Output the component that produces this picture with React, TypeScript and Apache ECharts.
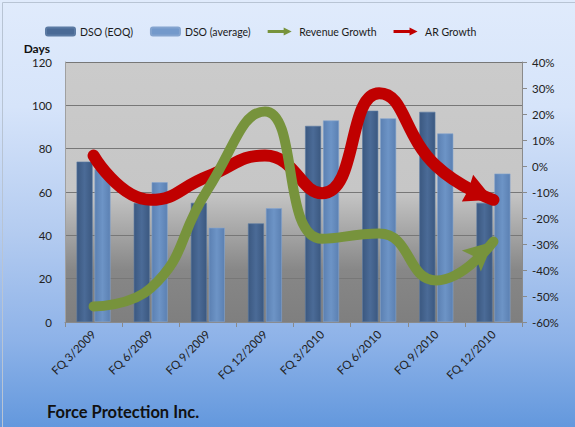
import React, { useEffect, useRef } from "react";
import * as echarts from "echarts";

const categories = ["FQ 3/2009", "FQ 6/2009", "FQ 9/2009", "FQ 12/2009", "FQ 3/2010", "FQ 6/2010", "FQ 9/2010", "FQ 12/2010"];
const dsoEoq = [74, 55, 55, 45.5, 90.5, 97.5, 97, 55];
const dsoAvg = [70.5, 64.5, 43.5, 52.5, 93, 94, 87, 68.5];
const revenueGrowth = [-54, -47, -9, 21, -28, -26, -44, -29];
const arGrowth = [4, -13, -4, 4, -10.5, 28, 0, -13];
const leftTicks = { min: 0, max: 120, interval: 20 };
const rightTicks = { min: -60, max: 40, interval: 10 };

const FONT = "Lato, 'Open Sans', sans-serif";

const arrowPath = "path://M0,3 L20,3 L20,0 L30,5 L20,10 L20,7 L0,7 Z";
// arrowheads drawn already pointing in their direction (no rotation needed)
const redHead = "path://M11.3,0 L31.6,25 L0,26.7 L6.6,15 Z";
const greenHead = "path://M31.6,0 L0,9 L14.3,16 L19,30 Z";

export default function App() {
  const ref = useRef<HTMLDivElement>(null);
  useEffect(() => {
    if (!ref.current) return;
    const chart = echarts.init(ref.current, undefined, { renderer: "svg" });
    const last = categories.length - 1;
    const lineData = (vals: number[], head: string, off: number[], size: number[]) =>
      vals.map((v, i) =>
        i === last
          ? { value: v, symbol: head, symbolSize: size, symbolOffset: off, symbolKeepAspect: false }
          : { value: v, symbol: "none" }
      );
    const barColor = (a: string, b: string) =>
      new echarts.graphic.LinearGradient(0, 0, 1, 0, [
        { offset: 0, color: a },
        { offset: 0.5, color: b },
        { offset: 1, color: a },
      ]);
    chart.setOption({
      animation: false,
      textStyle: { fontFamily: FONT },
      title: {
        text: "Force Protection Inc.",
        left: 42,
        top: 398,
        textStyle: { fontFamily: FONT, fontSize: 16.5, fontWeight: "bold", color: "#111" },
      },
      legend: {
        left: 40,
        top: 21,
        itemWidth: 29,
        itemHeight: 8,
        itemGap: 17,
        textStyle: { fontFamily: FONT, fontSize: 10.5, color: "#1a1a1a" },
        data: [
          { name: "DSO (EOQ)", icon: "roundRect", itemStyle: { color: "#4a6a96" } },
          { name: "DSO (average)", icon: "roundRect", itemStyle: { color: "#7399cb" } },
          { name: "Revenue Growth", icon: arrowPath, itemStyle: { color: "#77933c" } },
          { name: "AR Growth", icon: arrowPath, itemStyle: { color: "#c00000" } },
        ],
      },
      grid: {
        left: 65,
        right: 53,
        top: 62,
        bottom: 105,
        show: true,
        borderWidth: 0,
        backgroundColor: new echarts.graphic.LinearGradient(0, 0, 0, 1, [
          { offset: 0, color: "#cbcbcb" },
          { offset: 0.5, color: "#c6c6c6" },
          { offset: 0.8, color: "#878787" },
          { offset: 1, color: "#7f7f7f" },
        ]),
      },
      xAxis: {
        type: "category",
        data: categories,
        axisLine: { lineStyle: { color: "#8a8a8a" } },
        axisTick: { show: true, length: 5, lineStyle: { color: "#8a8a8a" } },
        axisLabel: { rotate: 45, fontSize: 11.5, color: "#222", fontFamily: FONT, margin: 10 },
      },
      yAxis: [
        {
          type: "value",
          ...leftTicks,
          name: "Days",
          nameGap: 8,
          nameTextStyle: { fontFamily: FONT, fontSize: 12, fontWeight: "bold", color: "#111", align: "right", padding: [0, 15, 0, 0] },
          axisLine: { show: true, lineStyle: { color: "#a0a0a0" } },
          axisTick: { show: false },
          axisLabel: { fontSize: 11.5, color: "#222", fontFamily: FONT, margin: 13 },
          splitLine: { lineStyle: { color: "#777", width: 1 } },
        },
        {
          type: "value",
          ...rightTicks,
          position: "right",
          axisLine: { show: true, lineStyle: { color: "#8a8a8a" } },
          axisTick: { show: true, length: 5, lineStyle: { color: "#8a8a8a" } },
          axisLabel: { fontSize: 11.5, color: "#222", fontFamily: FONT, margin: 10, formatter: "{value}%" },
          splitLine: { show: false },
        },
      ],
      series: [
        {
          name: "DSO (EOQ)",
          type: "bar",
          data: dsoEoq,
          barWidth: 16,
          barGap: "12%",
          itemStyle: { color: barColor("#3b5880", "#4b6b97"), borderColor: "#5b7aa3", borderWidth: 0.6 },
        },
        {
          name: "DSO (average)",
          type: "bar",
          data: dsoAvg,
          barWidth: 16,
          itemStyle: { color: barColor("#5b80b2", "#6d94c6"), borderColor: "#84a4cf", borderWidth: 0.6 },
        },
        {
          name: "AR Growth",
          type: "line",
          yAxisIndex: 1,
          smooth: 0.5,
          z: 3,
          showSymbol: true,
          data: lineData(arGrowth, redHead, [-15.8, -11.6], [31.6, 26.7]),
          lineStyle: { color: "#c00000", width: 12, cap: "round" },
          itemStyle: { color: "#c00000" },
        },
        {
          name: "Revenue Growth",
          type: "line",
          yAxisIndex: 1,
          smooth: 0.5,
          z: 4,
          showSymbol: true,
          data: lineData(revenueGrowth, greenHead, [-15.8, 15], [31.6, 30]),
          lineStyle: { color: "#77933c", width: 10, cap: "round" },
          itemStyle: { color: "#77933c" },
        },
      ],
      graphic: [
        {
          type: "rect",
          left: 0,
          top: 0,
          shape: { x: 0.5, y: 0.5, width: 574, height: 426 },
          style: { fill: "none", stroke: "#b8c4d4", lineWidth: 1 },
          silent: true,
        },
      ],
    });
    return () => chart.dispose();
  }, []);
  return (
    <div
      ref={ref}
      style={{
        position: "fixed",
        left: 0,
        top: 0,
        width: 575,
        height: 427,
        background: "linear-gradient(to bottom, #e0ebfc 0%, #d6e4fa 25%, #b3cbf0 55%, #8db2e8 80%, #6398dd 100%)",
      }}
    />
  );
}
